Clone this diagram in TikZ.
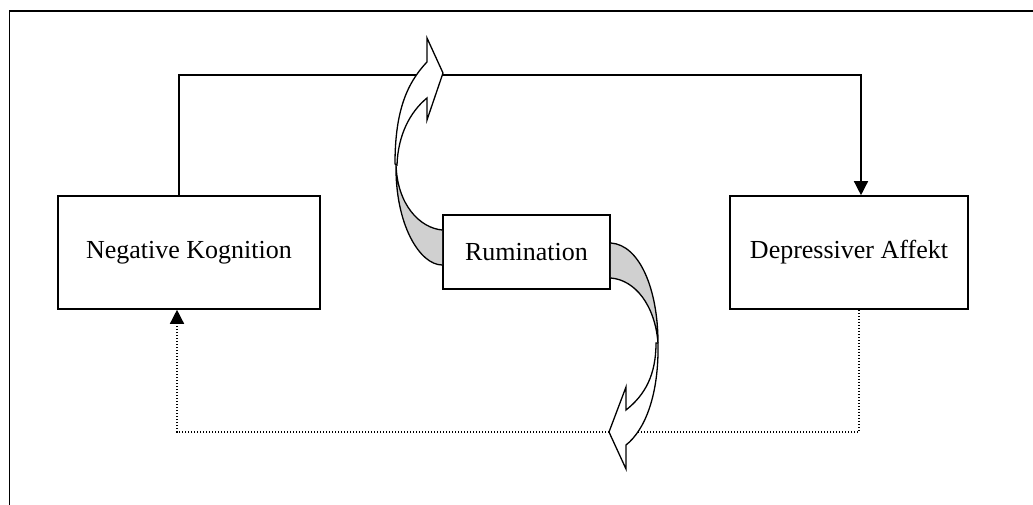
\documentclass[tikz,border=0pt]{standalone}
\usepackage{fontspec}
\setmainfont{Liberation Serif}
\usetikzlibrary{arrows.meta}
\definecolor{bandgray}{RGB}{208,208,208}
\begin{document}
\begin{tikzpicture}[x=1pt,y=-1pt,
  box/.style={draw, line width=1.6pt, inner sep=0pt, fill=white,
    font=\fontsize{26}{30}\selectfont},
  conn/.style={line width=1.4pt, -{Triangle[width=14pt,length=14pt]}},
  dotconn/.style={line width=1.4pt, dash pattern=on 1.4pt off 1.6pt,
    -{Triangle[width=14pt,length=14pt]}},
  band/.style={draw, line width=1.3pt, line join=miter},
  frame/.style={line width=1.8pt}]
\useasboundingbox (0,0) rectangle (1033,505);

% page frame (open on the right and bottom)
\draw[frame] (9.5,505) -- (9.5,11) -- (1033,11);

% boxes
\node[box, minimum width=262pt, minimum height=113pt] (neg) at (189,252.5) {Negative Kognition};
\node[box, minimum width=238pt, minimum height=113pt] (dep) at (849,252.5) {Depressiver Affekt};
\node[box, minimum width=167pt, minimum height=74pt] (rum) at (526.5,252) {Rumination};

% connectors
\coordinate (ctop) at (861,75);
\coordinate (cbot) at (177,432);
\draw[conn] ([xshift=-10pt]neg.north) |- (ctop) -- ([xshift=12pt]dep.north);
\draw[dotconn] ([xshift=10pt]dep.south) |- (cbot) -- ([xshift=-12pt]neg.south);

% curved arrow leaving Rumination to the upper left
\fill[bandgray] (rum.west |- 0,230) .. controls (420,228) and (397,205) .. (396,164)
  .. controls (395,225) and (420,265) .. (rum.west |- 0,265) -- cycle;
\draw[band] (rum.west |- 0,230) .. controls (420,228) and (397,205) .. (396,164)
  .. controls (395,225) and (420,265) .. (rum.west |- 0,265);
\filldraw[band, fill=white] (395,164) .. controls (395,115) and (405,85) .. (427,62)
  -- (427,38) -- (443,73) -- (427,120) -- (427,98)
  .. controls (410,112) and (398,135) .. (397,165) -- cycle;

% curved arrow leaving Rumination to the lower right
\fill[bandgray] (rum.east |- 0,243) .. controls (640,245) and (658,290) .. (658,343)
  .. controls (655,305) and (635,280) .. (rum.east |- 0,278) -- cycle;
\draw[band] (rum.east |- 0,243) .. controls (640,245) and (658,290) .. (658,343)
  .. controls (655,305) and (635,280) .. (rum.east |- 0,278);
\filldraw[band, fill=white] (658,343) .. controls (659,395) and (645,430) .. (626,445)
  -- (626,469) -- (609,432) -- (626,387) -- (626,410)
  .. controls (645,395) and (656,375) .. (656,343) -- cycle;
\end{tikzpicture}
\end{document}
